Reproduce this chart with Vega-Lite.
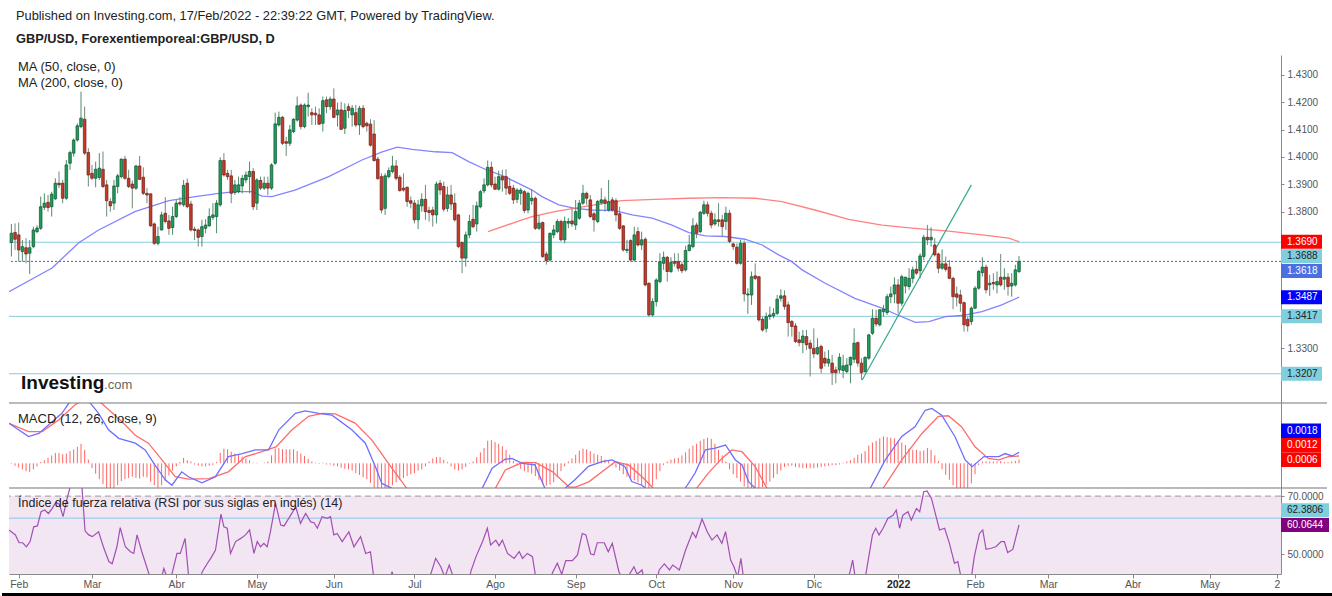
{
"$schema": "https://vega.github.io/schema/vega-lite/v6.json",
"padding": {"left": 0, "top": 10, "right": 0, "bottom": 0},
"spacing": 0,
"bounds": "flush",
"background": "white",
"config": {
 "view": {"stroke": null},
 "font": "Liberation Sans",
 "scale": {"continuousPadding": 0},
 "axis": {"grid": false, "domainColor": "#8a8a8a", "tickColor": "#8a8a8a", "labelColor": "#555555", "labelFontSize": 10, "labelFont": "Liberation Sans", "tickSize": 3, "labelPadding": 3, "domainWidth": 1}
},
"datasets": {
"candles": [
{"i":-2,"o":1.3687,"h":1.3755,"l":1.3636,"c":1.3721,"m":-0.0001},
{"i":-1,"o":1.3724,"h":1.3757,"l":1.3660,"c":1.3699,"m":-0.0004},
{"i":0,"o":1.3715,"h":1.3760,"l":1.3617,"c":1.3660,"m":-0.0007},
{"i":1,"o":1.3654,"h":1.3696,"l":1.3617,"c":1.3672,"m":-0.0010},
{"i":2,"o":1.3668,"h":1.3703,"l":1.3611,"c":1.3645,"m":-0.0013},
{"i":3,"o":1.3648,"h":1.3696,"l":1.3572,"c":1.3668,"m":-0.0014},
{"i":4,"o":1.3672,"h":1.3745,"l":1.3666,"c":1.3733,"m":-0.0010},
{"i":5,"o":1.3727,"h":1.3750,"l":1.3721,"c":1.3740,"m":-0.0005},
{"i":6,"o":1.3739,"h":1.3855,"l":1.3733,"c":1.3818,"m":0.0002},
{"i":7,"o":1.3816,"h":1.3867,"l":1.3806,"c":1.3831,"m":0.0005},
{"i":8,"o":1.3834,"h":1.3861,"l":1.3800,"c":1.3815,"m":0.0009},
{"i":9,"o":1.3818,"h":1.3873,"l":1.3782,"c":1.3864,"m":0.0013},
{"i":10,"o":1.3847,"h":1.3922,"l":1.3843,"c":1.3904,"m":0.0017},
{"i":11,"o":1.3904,"h":1.3947,"l":1.3886,"c":1.3898,"m":0.0017},
{"i":12,"o":1.3904,"h":1.3916,"l":1.3831,"c":1.3849,"m":0.0015},
{"i":13,"o":1.3849,"h":1.3989,"l":1.3843,"c":1.3971,"m":0.0016},
{"i":14,"o":1.3977,"h":1.4023,"l":1.3953,"c":1.4016,"m":0.0020},
{"i":15,"o":1.4014,"h":1.4068,"l":1.4001,"c":1.4062,"m":0.0023},
{"i":16,"o":1.4062,"h":1.4123,"l":1.4056,"c":1.4114,"m":0.0027},
{"i":17,"o":1.4111,"h":1.4239,"l":1.4105,"c":1.4142,"m":0.0032},
{"i":18,"o":1.4138,"h":1.4184,"l":1.4007,"c":1.4014,"m":0.0022},
{"i":19,"o":1.4016,"h":1.4032,"l":1.3892,"c":1.3934,"m":0.0006},
{"i":20,"o":1.3940,"h":1.3971,"l":1.3916,"c":1.3922,"m":-0.0008},
{"i":21,"o":1.3922,"h":1.3983,"l":1.3889,"c":1.3955,"m":-0.0017},
{"i":22,"o":1.3925,"h":1.4014,"l":1.3916,"c":1.3959,"m":-0.0026},
{"i":23,"o":1.3955,"h":1.4020,"l":1.3886,"c":1.3892,"m":-0.0034},
{"i":24,"o":1.3898,"h":1.3916,"l":1.3782,"c":1.3840,"m":-0.0042},
{"i":25,"o":1.3837,"h":1.3849,"l":1.3800,"c":1.3821,"m":-0.0046},
{"i":26,"o":1.3831,"h":1.3916,"l":1.3806,"c":1.3894,"m":-0.0043},
{"i":27,"o":1.3892,"h":1.3938,"l":1.3867,"c":1.3931,"m":-0.0036},
{"i":28,"o":1.3928,"h":1.3995,"l":1.3922,"c":1.3992,"m":-0.0029},
{"i":29,"o":1.3992,"h":1.4004,"l":1.3916,"c":1.3922,"m":-0.0026},
{"i":30,"o":1.3922,"h":1.3953,"l":1.3886,"c":1.3892,"m":-0.0024},
{"i":31,"o":1.3901,"h":1.3914,"l":1.3812,"c":1.3886,"m":-0.0022},
{"i":32,"o":1.3886,"h":1.3971,"l":1.3879,"c":1.3967,"m":-0.0024},
{"i":33,"o":1.3967,"h":1.4004,"l":1.3916,"c":1.3918,"m":-0.0025},
{"i":34,"o":1.3926,"h":1.3962,"l":1.3861,"c":1.3867,"m":-0.0022},
{"i":35,"o":1.3867,"h":1.3886,"l":1.3831,"c":1.3861,"m":-0.0023},
{"i":36,"o":1.3865,"h":1.3867,"l":1.3745,"c":1.3748,"m":-0.0030},
{"i":37,"o":1.3755,"h":1.3760,"l":1.3678,"c":1.3684,"m":-0.0036},
{"i":38,"o":1.3684,"h":1.3745,"l":1.3676,"c":1.3709,"m":-0.0040},
{"i":39,"o":1.3733,"h":1.3800,"l":1.3731,"c":1.3788,"m":-0.0036},
{"i":40,"o":1.3794,"h":1.3853,"l":1.3757,"c":1.3764,"m":-0.0029},
{"i":41,"o":1.3766,"h":1.3788,"l":1.3715,"c":1.3739,"m":-0.0020},
{"i":42,"o":1.3742,"h":1.3818,"l":1.3715,"c":1.3782,"m":-0.0012},
{"i":43,"o":1.3782,"h":1.3843,"l":1.3776,"c":1.3831,"m":-0.0005},
{"i":44,"o":1.3833,"h":1.3853,"l":1.3821,"c":1.3828,"m":0.0002},
{"i":45,"o":1.3825,"h":1.3916,"l":1.3818,"c":1.3896,"m":0.0009},
{"i":46,"o":1.3904,"h":1.3921,"l":1.3812,"c":1.3818,"m":0.0005},
{"i":47,"o":1.3828,"h":1.3840,"l":1.3727,"c":1.3733,"m":0.0003},
{"i":48,"o":1.3736,"h":1.3745,"l":1.3696,"c":1.3731,"m":-0.0002},
{"i":49,"o":1.3733,"h":1.3739,"l":1.3672,"c":1.3706,"m":-0.0004},
{"i":50,"o":1.3709,"h":1.3770,"l":1.3672,"c":1.3745,"m":-0.0005},
{"i":51,"o":1.3739,"h":1.3772,"l":1.3721,"c":1.3751,"m":-0.0005},
{"i":52,"o":1.3748,"h":1.3812,"l":1.3745,"c":1.3782,"m":-0.0004},
{"i":53,"o":1.3779,"h":1.3831,"l":1.3770,"c":1.3788,"m":-0.0003},
{"i":54,"o":1.3782,"h":1.3843,"l":1.3721,"c":1.3831,"m":0.0002},
{"i":55,"o":1.3825,"h":1.3999,"l":1.3818,"c":1.3987,"m":0.0017},
{"i":56,"o":1.3987,"h":1.4014,"l":1.3928,"c":1.3934,"m":0.0024},
{"i":57,"o":1.3940,"h":1.3953,"l":1.3916,"c":1.3928,"m":0.0023},
{"i":58,"o":1.3931,"h":1.3953,"l":1.3831,"c":1.3867,"m":0.0019},
{"i":59,"o":1.3870,"h":1.3916,"l":1.3861,"c":1.3898,"m":0.0016},
{"i":60,"o":1.3873,"h":1.3928,"l":1.3867,"c":1.3898,"m":0.0014},
{"i":61,"o":1.3894,"h":1.3934,"l":1.3867,"c":1.3922,"m":0.0011},
{"i":62,"o":1.3916,"h":1.3947,"l":1.3904,"c":1.3934,"m":0.0008},
{"i":63,"o":1.3928,"h":1.3983,"l":1.3867,"c":1.3947,"m":0.0005},
{"i":64,"o":1.3947,"h":1.3959,"l":1.3806,"c":1.3818,"m":0.0001},
{"i":65,"o":1.3831,"h":1.3922,"l":1.3806,"c":1.3916,"m":0.0001},
{"i":66,"o":1.3914,"h":1.3928,"l":1.3879,"c":1.3886,"m":0.0000},
{"i":67,"o":1.3886,"h":1.3928,"l":1.3879,"c":1.3904,"m":0.0001},
{"i":68,"o":1.3904,"h":1.3928,"l":1.3861,"c":1.3886,"m":0.0003},
{"i":69,"o":1.3886,"h":1.3977,"l":1.3879,"c":1.3971,"m":0.0013},
{"i":70,"o":1.3977,"h":1.4162,"l":1.3971,"c":1.4121,"m":0.0024},
{"i":71,"o":1.4117,"h":1.4166,"l":1.4111,"c":1.4145,"m":0.0025},
{"i":72,"o":1.4145,"h":1.4150,"l":1.4044,"c":1.4050,"m":0.0023},
{"i":73,"o":1.4056,"h":1.4074,"l":1.4004,"c":1.4050,"m":0.0023},
{"i":74,"o":1.4050,"h":1.4117,"l":1.4040,"c":1.4099,"m":0.0023},
{"i":75,"o":1.4093,"h":1.4142,"l":1.4087,"c":1.4138,"m":0.0023},
{"i":76,"o":1.4135,"h":1.4221,"l":1.4129,"c":1.4187,"m":0.0020},
{"i":77,"o":1.4190,"h":1.4196,"l":1.4101,"c":1.4111,"m":0.0016},
{"i":78,"o":1.4111,"h":1.4196,"l":1.4105,"c":1.4190,"m":0.0012},
{"i":79,"o":1.4184,"h":1.4235,"l":1.4148,"c":1.4190,"m":0.0007},
{"i":80,"o":1.4162,"h":1.4178,"l":1.4117,"c":1.4154,"m":0.0003},
{"i":81,"o":1.4160,"h":1.4184,"l":1.4117,"c":1.4154,"m":0.0001},
{"i":82,"o":1.4154,"h":1.4178,"l":1.4117,"c":1.4120,"m":-0.0001},
{"i":83,"o":1.4123,"h":1.4221,"l":1.4093,"c":1.4206,"m":0.0001},
{"i":84,"o":1.4209,"h":1.4221,"l":1.4160,"c":1.4184,"m":-0.0002},
{"i":85,"o":1.4184,"h":1.4221,"l":1.4172,"c":1.4212,"m":-0.0002},
{"i":86,"o":1.4212,"h":1.4251,"l":1.4142,"c":1.4145,"m":-0.0004},
{"i":87,"o":1.4154,"h":1.4199,"l":1.4111,"c":1.4172,"m":-0.0005},
{"i":88,"o":1.4172,"h":1.4202,"l":1.4099,"c":1.4101,"m":-0.0007},
{"i":89,"o":1.4105,"h":1.4196,"l":1.4084,"c":1.4170,"m":-0.0009},
{"i":90,"o":1.4184,"h":1.4196,"l":1.4142,"c":1.4170,"m":-0.0010},
{"i":91,"o":1.4154,"h":1.4190,"l":1.4111,"c":1.4178,"m":-0.0012},
{"i":92,"o":1.4162,"h":1.4190,"l":1.4109,"c":1.4117,"m":-0.0016},
{"i":93,"o":1.4117,"h":1.4187,"l":1.4081,"c":1.4178,"m":-0.0019},
{"i":94,"o":1.4178,"h":1.4190,"l":1.4105,"c":1.4111,"m":-0.0023},
{"i":95,"o":1.4123,"h":1.4129,"l":1.4093,"c":1.4114,"m":-0.0026},
{"i":96,"o":1.4120,"h":1.4138,"l":1.4038,"c":1.4043,"m":-0.0032},
{"i":97,"o":1.4084,"h":1.4135,"l":1.3983,"c":1.3987,"m":-0.0040},
{"i":98,"o":1.3992,"h":1.4001,"l":1.3916,"c":1.3921,"m":-0.0048},
{"i":99,"o":1.3928,"h":1.3940,"l":1.3794,"c":1.3806,"m":-0.0053},
{"i":100,"o":1.3812,"h":1.3940,"l":1.3788,"c":1.3931,"m":-0.0048},
{"i":101,"o":1.3928,"h":1.3962,"l":1.3922,"c":1.3950,"m":-0.0042},
{"i":102,"o":1.3947,"h":1.4004,"l":1.3940,"c":1.3967,"m":-0.0036},
{"i":103,"o":1.3967,"h":1.3989,"l":1.3914,"c":1.3922,"m":-0.0031},
{"i":104,"o":1.3926,"h":1.3934,"l":1.3873,"c":1.3877,"m":-0.0027},
{"i":105,"o":1.3886,"h":1.3940,"l":1.3873,"c":1.3879,"m":-0.0024},
{"i":106,"o":1.3889,"h":1.3892,"l":1.3818,"c":1.3837,"m":-0.0021},
{"i":107,"o":1.3840,"h":1.3855,"l":1.3812,"c":1.3831,"m":-0.0018},
{"i":108,"o":1.3831,"h":1.3843,"l":1.3757,"c":1.3770,"m":-0.0016},
{"i":109,"o":1.3770,"h":1.3843,"l":1.3736,"c":1.3825,"m":-0.0012},
{"i":110,"o":1.3821,"h":1.3867,"l":1.3800,"c":1.3845,"m":-0.0010},
{"i":111,"o":1.3845,"h":1.3898,"l":1.3770,"c":1.3800,"m":-0.0005},
{"i":112,"o":1.3804,"h":1.3818,"l":1.3764,"c":1.3797,"m":0.0003},
{"i":113,"o":1.3806,"h":1.3818,"l":1.3745,"c":1.3788,"m":0.0008},
{"i":114,"o":1.3788,"h":1.3910,"l":1.3757,"c":1.3901,"m":0.0010},
{"i":115,"o":1.3904,"h":1.3916,"l":1.3861,"c":1.3879,"m":0.0010},
{"i":116,"o":1.3892,"h":1.3910,"l":1.3800,"c":1.3809,"m":0.0006},
{"i":117,"o":1.3812,"h":1.3892,"l":1.3800,"c":1.3861,"m":0.0002},
{"i":118,"o":1.3861,"h":1.3898,"l":1.3806,"c":1.3828,"m":-0.0005},
{"i":119,"o":1.3831,"h":1.3867,"l":1.3764,"c":1.3770,"m":-0.0010},
{"i":120,"o":1.3788,"h":1.3792,"l":1.3666,"c":1.3672,"m":-0.0012},
{"i":121,"o":1.3687,"h":1.3691,"l":1.3575,"c":1.3630,"m":-0.0010},
{"i":122,"o":1.3630,"h":1.3727,"l":1.3599,"c":1.3715,"m":-0.0006},
{"i":123,"o":1.3715,"h":1.3788,"l":1.3703,"c":1.3764,"m":-0.0001},
{"i":124,"o":1.3772,"h":1.3825,"l":1.3739,"c":1.3745,"m":0.0003},
{"i":125,"o":1.3755,"h":1.3837,"l":1.3727,"c":1.3821,"m":0.0010},
{"i":126,"o":1.3818,"h":1.3879,"l":1.3812,"c":1.3873,"m":0.0018},
{"i":127,"o":1.3876,"h":1.3922,"l":1.3867,"c":1.3898,"m":0.0025},
{"i":128,"o":1.3898,"h":1.3987,"l":1.3892,"c":1.3962,"m":0.0037},
{"i":129,"o":1.3962,"h":1.3983,"l":1.3889,"c":1.3898,"m":0.0038},
{"i":130,"o":1.3901,"h":1.3928,"l":1.3879,"c":1.3882,"m":0.0035},
{"i":131,"o":1.3882,"h":1.3950,"l":1.3877,"c":1.3928,"m":0.0032},
{"i":132,"o":1.3928,"h":1.3953,"l":1.3873,"c":1.3916,"m":0.0028},
{"i":133,"o":1.3928,"h":1.3955,"l":1.3861,"c":1.3886,"m":0.0022},
{"i":134,"o":1.3892,"h":1.3922,"l":1.3861,"c":1.3867,"m":0.0014},
{"i":135,"o":1.3886,"h":1.3898,"l":1.3828,"c":1.3843,"m":0.0004},
{"i":136,"o":1.3845,"h":1.3886,"l":1.3831,"c":1.3879,"m":-0.0003},
{"i":137,"o":1.3867,"h":1.3886,"l":1.3825,"c":1.3879,"m":-0.0009},
{"i":138,"o":1.3873,"h":1.3879,"l":1.3794,"c":1.3804,"m":-0.0013},
{"i":139,"o":1.3806,"h":1.3873,"l":1.3794,"c":1.3867,"m":-0.0015},
{"i":140,"o":1.3840,"h":1.3882,"l":1.3825,"c":1.3849,"m":-0.0017},
{"i":141,"o":1.3849,"h":1.3855,"l":1.3733,"c":1.3739,"m":-0.0021},
{"i":142,"o":1.3739,"h":1.3788,"l":1.3733,"c":1.3758,"m":-0.0027},
{"i":143,"o":1.3760,"h":1.3764,"l":1.3630,"c":1.3636,"m":-0.0033},
{"i":144,"o":1.3645,"h":1.3654,"l":1.3606,"c":1.3621,"m":-0.0037},
{"i":145,"o":1.3623,"h":1.3723,"l":1.3617,"c":1.3721,"m":-0.0035},
{"i":146,"o":1.3715,"h":1.3751,"l":1.3703,"c":1.3733,"m":-0.0031},
{"i":147,"o":1.3727,"h":1.3772,"l":1.3721,"c":1.3764,"m":-0.0023},
{"i":148,"o":1.3764,"h":1.3770,"l":1.3691,"c":1.3697,"m":-0.0013},
{"i":149,"o":1.3697,"h":1.3782,"l":1.3684,"c":1.3764,"m":-0.0005},
{"i":150,"o":1.3758,"h":1.3776,"l":1.3739,"c":1.3764,"m":0.0003},
{"i":151,"o":1.3766,"h":1.3812,"l":1.3745,"c":1.3755,"m":0.0008},
{"i":152,"o":1.3751,"h":1.3843,"l":1.3733,"c":1.3800,"m":0.0014},
{"i":153,"o":1.3776,"h":1.3843,"l":1.3770,"c":1.3831,"m":0.0021},
{"i":154,"o":1.3831,"h":1.3898,"l":1.3825,"c":1.3867,"m":0.0024},
{"i":155,"o":1.3867,"h":1.3873,"l":1.3825,"c":1.3849,"m":0.0023},
{"i":156,"o":1.3843,"h":1.3861,"l":1.3776,"c":1.3782,"m":0.0020},
{"i":157,"o":1.3792,"h":1.3800,"l":1.3727,"c":1.3770,"m":0.0016},
{"i":158,"o":1.3764,"h":1.3843,"l":1.3758,"c":1.3837,"m":0.0014},
{"i":159,"o":1.3833,"h":1.3886,"l":1.3825,"c":1.3843,"m":0.0012},
{"i":160,"o":1.3843,"h":1.3855,"l":1.3800,"c":1.3831,"m":0.0006},
{"i":161,"o":1.3806,"h":1.3916,"l":1.3800,"c":1.3837,"m":0.0005},
{"i":162,"o":1.3843,"h":1.3853,"l":1.3800,"c":1.3806,"m":-0.0003},
{"i":163,"o":1.3840,"h":1.3849,"l":1.3764,"c":1.3788,"m":-0.0007},
{"i":164,"o":1.3792,"h":1.3818,"l":1.3733,"c":1.3739,"m":-0.0012},
{"i":165,"o":1.3748,"h":1.3750,"l":1.3654,"c":1.3660,"m":-0.0018},
{"i":166,"o":1.3658,"h":1.3697,"l":1.3648,"c":1.3662,"m":-0.0022},
{"i":167,"o":1.3694,"h":1.3699,"l":1.3617,"c":1.3623,"m":-0.0026},
{"i":168,"o":1.3623,"h":1.3745,"l":1.3617,"c":1.3715,"m":-0.0028},
{"i":169,"o":1.3727,"h":1.3743,"l":1.3672,"c":1.3678,"m":-0.0031},
{"i":170,"o":1.3678,"h":1.3727,"l":1.3660,"c":1.3697,"m":-0.0036},
{"i":171,"o":1.3699,"h":1.3706,"l":1.3526,"c":1.3532,"m":-0.0044},
{"i":172,"o":1.3538,"h":1.3541,"l":1.3416,"c":1.3422,"m":-0.0043},
{"i":173,"o":1.3422,"h":1.3483,"l":1.3416,"c":1.3471,"m":-0.0037},
{"i":174,"o":1.3471,"h":1.3556,"l":1.3453,"c":1.3550,"m":-0.0026},
{"i":175,"o":1.3544,"h":1.3648,"l":1.3538,"c":1.3617,"m":-0.0013},
{"i":176,"o":1.3611,"h":1.3654,"l":1.3587,"c":1.3633,"m":-0.0003},
{"i":177,"o":1.3633,"h":1.3638,"l":1.3544,"c":1.3581,"m":0.0003},
{"i":178,"o":1.3581,"h":1.3633,"l":1.3575,"c":1.3614,"m":0.0006},
{"i":179,"o":1.3617,"h":1.3648,"l":1.3599,"c":1.3611,"m":0.0008},
{"i":180,"o":1.3617,"h":1.3648,"l":1.3581,"c":1.3593,"m":0.0009},
{"i":181,"o":1.3606,"h":1.3617,"l":1.3575,"c":1.3584,"m":0.0013},
{"i":182,"o":1.3587,"h":1.3675,"l":1.3581,"c":1.3658,"m":0.0018},
{"i":183,"o":1.3658,"h":1.3715,"l":1.3654,"c":1.3678,"m":0.0024},
{"i":184,"o":1.3672,"h":1.3776,"l":1.3666,"c":1.3748,"m":0.0029},
{"i":185,"o":1.3751,"h":1.3760,"l":1.3703,"c":1.3721,"m":0.0032},
{"i":186,"o":1.3727,"h":1.3803,"l":1.3721,"c":1.3798,"m":0.0037},
{"i":187,"o":1.3794,"h":1.3840,"l":1.3788,"c":1.3825,"m":0.0040},
{"i":188,"o":1.3825,"h":1.3837,"l":1.3782,"c":1.3794,"m":0.0042},
{"i":189,"o":1.3794,"h":1.3804,"l":1.3739,"c":1.3751,"m":0.0040},
{"i":190,"o":1.3755,"h":1.3794,"l":1.3748,"c":1.3770,"m":0.0032},
{"i":191,"o":1.3770,"h":1.3831,"l":1.3745,"c":1.3764,"m":0.0022},
{"i":192,"o":1.3770,"h":1.3788,"l":1.3709,"c":1.3745,"m":0.0013},
{"i":193,"o":1.3764,"h":1.3818,"l":1.3733,"c":1.3794,"m":0.0003},
{"i":194,"o":1.3794,"h":1.3806,"l":1.3684,"c":1.3691,"m":-0.0010},
{"i":195,"o":1.3682,"h":1.3687,"l":1.3660,"c":1.3672,"m":-0.0018},
{"i":196,"o":1.3670,"h":1.3684,"l":1.3606,"c":1.3611,"m":-0.0024},
{"i":197,"o":1.3611,"h":1.3697,"l":1.3606,"c":1.3684,"m":-0.0030},
{"i":198,"o":1.3684,"h":1.3694,"l":1.3471,"c":1.3499,"m":-0.0038},
{"i":199,"o":1.3495,"h":1.3520,"l":1.3426,"c":1.3499,"m":-0.0045},
{"i":200,"o":1.3495,"h":1.3581,"l":1.3459,"c":1.3562,"m":-0.0045},
{"i":201,"o":1.3565,"h":1.3611,"l":1.3550,"c":1.3556,"m":-0.0046},
{"i":202,"o":1.3562,"h":1.3565,"l":1.3398,"c":1.3404,"m":-0.0042},
{"i":203,"o":1.3406,"h":1.3416,"l":1.3361,"c":1.3367,"m":-0.0039},
{"i":204,"o":1.3373,"h":1.3431,"l":1.3358,"c":1.3416,"m":-0.0035},
{"i":205,"o":1.3416,"h":1.3453,"l":1.3404,"c":1.3422,"m":-0.0030},
{"i":206,"o":1.3419,"h":1.3447,"l":1.3410,"c":1.3428,"m":-0.0024},
{"i":207,"o":1.3428,"h":1.3495,"l":1.3422,"c":1.3480,"m":-0.0018},
{"i":208,"o":1.3483,"h":1.3516,"l":1.3471,"c":1.3492,"m":-0.0012},
{"i":209,"o":1.3492,"h":1.3512,"l":1.3441,"c":1.3453,"m":-0.0006},
{"i":210,"o":1.3459,"h":1.3471,"l":1.3343,"c":1.3394,"m":-0.0004},
{"i":211,"o":1.3398,"h":1.3404,"l":1.3343,"c":1.3380,"m":-0.0004},
{"i":212,"o":1.3382,"h":1.3392,"l":1.3319,"c":1.3325,"m":-0.0006},
{"i":213,"o":1.3331,"h":1.3361,"l":1.3307,"c":1.3321,"m":-0.0007},
{"i":214,"o":1.3321,"h":1.3367,"l":1.3282,"c":1.3345,"m":-0.0008},
{"i":215,"o":1.3343,"h":1.3367,"l":1.3294,"c":1.3313,"m":-0.0008},
{"i":216,"o":1.3319,"h":1.3331,"l":1.3197,"c":1.3300,"m":-0.0008},
{"i":217,"o":1.3300,"h":1.3373,"l":1.3264,"c":1.3280,"m":-0.0008},
{"i":218,"o":1.3280,"h":1.3337,"l":1.3276,"c":1.3303,"m":-0.0007},
{"i":219,"o":1.3307,"h":1.3313,"l":1.3209,"c":1.3227,"m":-0.0006},
{"i":220,"o":1.3264,"h":1.3288,"l":1.3233,"c":1.3246,"m":-0.0005},
{"i":221,"o":1.3246,"h":1.3294,"l":1.3233,"c":1.3260,"m":-0.0004},
{"i":222,"o":1.3246,"h":1.3276,"l":1.3166,"c":1.3211,"m":-0.0003},
{"i":223,"o":1.3221,"h":1.3233,"l":1.3172,"c":1.3211,"m":-0.0003},
{"i":224,"o":1.3221,"h":1.3282,"l":1.3209,"c":1.3267,"m":-0.0002},
{"i":225,"o":1.3219,"h":1.3276,"l":1.3191,"c":1.3236,"m":0.0001},
{"i":226,"o":1.3215,"h":1.3264,"l":1.3209,"c":1.3239,"m":0.0003},
{"i":227,"o":1.3239,"h":1.3270,"l":1.3172,"c":1.3267,"m":0.0005},
{"i":228,"o":1.3260,"h":1.3373,"l":1.3246,"c":1.3319,"m":0.0009},
{"i":229,"o":1.3321,"h":1.3325,"l":1.3233,"c":1.3246,"m":0.0014},
{"i":230,"o":1.3246,"h":1.3264,"l":1.3185,"c":1.3211,"m":0.0016},
{"i":231,"o":1.3215,"h":1.3270,"l":1.3211,"c":1.3267,"m":0.0020},
{"i":232,"o":1.3264,"h":1.3353,"l":1.3258,"c":1.3349,"m":0.0029},
{"i":233,"o":1.3355,"h":1.3443,"l":1.3349,"c":1.3410,"m":0.0034},
{"i":234,"o":1.3410,"h":1.3441,"l":1.3380,"c":1.3389,"m":0.0037},
{"i":235,"o":1.3386,"h":1.3443,"l":1.3380,"c":1.3441,"m":0.0041},
{"i":236,"o":1.3434,"h":1.3459,"l":1.3416,"c":1.3443,"m":0.0044},
{"i":237,"o":1.3431,"h":1.3499,"l":1.3422,"c":1.3489,"m":0.0043},
{"i":238,"o":1.3489,"h":1.3526,"l":1.3465,"c":1.3499,"m":0.0042},
{"i":239,"o":1.3499,"h":1.3560,"l":1.3465,"c":1.3532,"m":0.0041},
{"i":240,"o":1.3532,"h":1.3553,"l":1.3428,"c":1.3465,"m":0.0036},
{"i":241,"o":1.3465,"h":1.3569,"l":1.3455,"c":1.3562,"m":0.0034},
{"i":242,"o":1.3528,"h":1.3562,"l":1.3501,"c":1.3560,"m":0.0030},
{"i":243,"o":1.3526,"h":1.3593,"l":1.3514,"c":1.3556,"m":0.0024},
{"i":244,"o":1.3556,"h":1.3599,"l":1.3538,"c":1.3587,"m":0.0022},
{"i":245,"o":1.3589,"h":1.3617,"l":1.3569,"c":1.3575,"m":0.0022},
{"i":246,"o":1.3584,"h":1.3648,"l":1.3556,"c":1.3638,"m":0.0020},
{"i":247,"o":1.3636,"h":1.3715,"l":1.3623,"c":1.3706,"m":0.0021},
{"i":248,"o":1.3706,"h":1.3751,"l":1.3678,"c":1.3697,"m":0.0025},
{"i":249,"o":1.3697,"h":1.3743,"l":1.3672,"c":1.3706,"m":0.0022},
{"i":250,"o":1.3678,"h":1.3703,"l":1.3636,"c":1.3642,"m":0.0013},
{"i":251,"o":1.3645,"h":1.3650,"l":1.3575,"c":1.3593,"m":0.0004},
{"i":252,"o":1.3593,"h":1.3662,"l":1.3587,"c":1.3609,"m":-0.0010},
{"i":253,"o":1.3609,"h":1.3636,"l":1.3581,"c":1.3589,"m":-0.0019},
{"i":254,"o":1.3597,"h":1.3623,"l":1.3553,"c":1.3556,"m":-0.0027},
{"i":255,"o":1.3556,"h":1.3562,"l":1.3443,"c":1.3489,"m":-0.0036},
{"i":256,"o":1.3499,"h":1.3526,"l":1.3453,"c":1.3487,"m":-0.0041},
{"i":257,"o":1.3495,"h":1.3514,"l":1.3434,"c":1.3465,"m":-0.0046},
{"i":258,"o":1.3467,"h":1.3471,"l":1.3361,"c":1.3386,"m":-0.0048},
{"i":259,"o":1.3406,"h":1.3416,"l":1.3361,"c":1.3382,"m":-0.0046},
{"i":260,"o":1.3398,"h":1.3453,"l":1.3386,"c":1.3447,"m":-0.0033},
{"i":261,"o":1.3447,"h":1.3528,"l":1.3443,"c":1.3520,"m":-0.0018},
{"i":262,"o":1.3520,"h":1.3587,"l":1.3514,"c":1.3581,"m":-0.0003},
{"i":263,"o":1.3577,"h":1.3633,"l":1.3562,"c":1.3597,"m":0.0003},
{"i":264,"o":1.3597,"h":1.3606,"l":1.3501,"c":1.3514,"m":0.0003},
{"i":265,"o":1.3532,"h":1.3569,"l":1.3492,"c":1.3538,"m":0.0003},
{"i":266,"o":1.3541,"h":1.3575,"l":1.3514,"c":1.3536,"m":0.0003},
{"i":267,"o":1.3532,"h":1.3581,"l":1.3501,"c":1.3544,"m":0.0003},
{"i":268,"o":1.3560,"h":1.3645,"l":1.3526,"c":1.3532,"m":0.0004},
{"i":269,"o":1.3553,"h":1.3593,"l":1.3514,"c":1.3560,"m":0.0002},
{"i":270,"o":1.3560,"h":1.3575,"l":1.3493,"c":1.3526,"m":0.0002},
{"i":271,"o":1.3528,"h":1.3575,"l":1.3489,"c":1.3538,"m":0.0003},
{"i":272,"o":1.3532,"h":1.3606,"l":1.3526,"c":1.3587,"m":0.0004},
{"i":273,"o":1.3581,"h":1.3638,"l":1.3575,"c":1.3618,"m":0.0006}
],
"ma50": [
{"i":-2.65,"v":1.3507},{"i":9.1,"v":1.3594},{"i":16.4,"v":1.3686},{"i":21.8,"v":1.3733},{"i":31.7,"v":1.3800},{"i":41.0,"v":1.3840},{"i":48.2,"v":1.3855},{"i":54.6,"v":1.3867},{"i":59.1,"v":1.3873},{"i":63.7,"v":1.3873},{"i":66.4,"v":1.3857},{"i":69.1,"v":1.3855},{"i":75.4,"v":1.3879},{"i":84.6,"v":1.3928},{"i":93.7,"v":1.3989},{"i":99.2,"v":1.4019},{"i":103.3,"v":1.4036},{"i":107.4,"v":1.4028},{"i":113.7,"v":1.4019},{"i":118.3,"v":1.4016},{"i":122.8,"v":1.3983},{"i":127.3,"v":1.3955},{"i":132.7,"v":1.3928},{"i":140.1,"v":1.3879},{"i":142.8,"v":1.3855},{"i":147.4,"v":1.3825},{"i":151.8,"v":1.3812},{"i":156.4,"v":1.3806},{"i":162.7,"v":1.3804},{"i":167.4,"v":1.3788},{"i":172.9,"v":1.3776},{"i":178.3,"v":1.3751},{"i":182.9,"v":1.3723},{"i":187.4,"v":1.3711},{"i":192.8,"v":1.3709},{"i":198.2,"v":1.3699},{"i":202.9,"v":1.3678},{"i":207.4,"v":1.3642},{"i":211.0,"v":1.3617},{"i":213.8,"v":1.3587},{"i":220.1,"v":1.3538},{"i":228.2,"v":1.3483},{"i":235.6,"v":1.3447},{"i":240.2,"v":1.3420},{"i":244.7,"v":1.3395},{"i":248.4,"v":1.3398},{"i":252.9,"v":1.3416},{"i":257.4,"v":1.3420},{"i":262.9,"v":1.3434},{"i":268.3,"v":1.3459},{"i":273,"v":1.3487}
],
"ma200": [
{"i":128.1,"v":1.3727},{"i":137.4,"v":1.3770},{"i":140.1,"v":1.3782},{"i":146.3,"v":1.3800},{"i":155.5,"v":1.3821},{"i":164.6,"v":1.3840},{"i":173.6,"v":1.3845},{"i":182.9,"v":1.3849},{"i":192.0,"v":1.3851},{"i":201.0,"v":1.3849},{"i":208.3,"v":1.3837},{"i":217.3,"v":1.3806},{"i":226.5,"v":1.3772},{"i":235.6,"v":1.3751},{"i":244.6,"v":1.3739},{"i":253.8,"v":1.3729},{"i":262.9,"v":1.3715},{"i":270.2,"v":1.3703},{"i":273,"v":1.3690}
],
"macd": [
{"i":-2.65,"v":0.00656},{"i":2.7,"v":0.00437},{"i":5.5,"v":0.0049},{"i":9.1,"v":0.0068},{"i":11.8,"v":0.0082},{"i":13.6,"v":0.0098},{"i":16.5,"v":0.0115},{"i":19.5,"v":0.0099},{"i":21.8,"v":0.0082},{"i":24.5,"v":0.0055},{"i":27.3,"v":0.0041},{"i":31.8,"v":0.0033},{"i":34.5,"v":0.0022},{"i":37.2,"v":-0.0003},{"i":40.0,"v":-0.0027},{"i":41.8,"v":-0.0036},{"i":44.5,"v":-0.0014},{"i":46.3,"v":-0.0022},{"i":50.0,"v":-0.0032},{"i":53.7,"v":-0.0022},{"i":57.2,"v":0.0011},{"i":61.0,"v":0.0016},{"i":64.6,"v":0.0022},{"i":68.2,"v":0.0022},{"i":71.0,"v":0.0055},{"i":75.5,"v":0.0082},{"i":78.2,"v":0.0086},{"i":81.9,"v":0.0082},{"i":85.5,"v":0.0079},{"i":90.9,"v":0.0055},{"i":94.6,"v":0.0033},{"i":97.3,"v":-0.0005},{"i":99.1,"v":-0.0033},{"i":101.8,"v":-0.0041},{"i":105,"v":-0.006},{"i":112,"v":-0.0065},{"i":120,"v":-0.0068},{"i":124.3,"v":-0.0055},{"i":126.5,"v":-0.0041},{"i":129.2,"v":-0.0008},{"i":132.7,"v":0.00066},{"i":134.6,"v":0.00082},{"i":137.4,"v":0},{"i":140.9,"v":-0.00027},{"i":143.6,"v":-0.0041},{"i":146.3,"v":-0.005},{"i":149.1,"v":-0.0041},{"i":151.8,"v":-0.0027},{"i":155.5,"v":-0.0005},{"i":159.2,"v":0.00027},{"i":161.9,"v":0.00055},{"i":165.4,"v":-0.0005},{"i":167.3,"v":-0.003},{"i":170.1,"v":-0.0036},{"i":171.0,"v":-0.0041},{"i":175,"v":-0.006},{"i":179,"v":-0.0055},{"i":181.9,"v":-0.0041},{"i":184.6,"v":-0.0016},{"i":187.4,"v":0.0022},{"i":190.1,"v":0.0025},{"i":192.9,"v":0.003},{"i":195.6,"v":0.00055},{"i":197.4,"v":-0.00027},{"i":199.2,"v":-0.003},{"i":201.0,"v":-0.0041},{"i":205,"v":-0.007},{"i":215,"v":-0.0085},{"i":225,"v":-0.007},{"i":232.4,"v":-0.0041},{"i":236.5,"v":0.00055},{"i":241.0,"v":0.0044},{"i":244.6,"v":0.006},{"i":247.4,"v":0.0087},{"i":249.2,"v":0.009},{"i":251.9,"v":0.0079},{"i":255.5,"v":0.0044},{"i":258.3,"v":0.00055},{"i":260.2,"v":-0.00055},{"i":263.4,"v":0.0011},{"i":267.5,"v":0.0011},{"i":269.2,"v":0.0016},{"i":271.1,"v":0.0012},{"i":273,"v":0.0018}
],
"signal": [
{"i":-2.65,"v":0.00656},{"i":2.7,"v":0.0052},{"i":6.4,"v":0.0052},{"i":10.9,"v":0.0071},{"i":15.4,"v":0.0096},{"i":19,"v":0.0108},{"i":22.7,"v":0.0098},{"i":28.2,"v":0.0068},{"i":31.8,"v":0.0046},{"i":35.4,"v":0.0033},{"i":39.1,"v":0.00055},{"i":42.7,"v":-0.0022},{"i":46.3,"v":-0.0026},{"i":51.9,"v":-0.0025},{"i":57.2,"v":-0.0014},{"i":61.9,"v":0.0011},{"i":66.4,"v":0.0019},{"i":70.2,"v":0.0027},{"i":74.6,"v":0.0055},{"i":79.1,"v":0.0077},{"i":82.8,"v":0.0082},{"i":86.4,"v":0.0081},{"i":91.8,"v":0.0066},{"i":96.4,"v":0.0038},{"i":100.9,"v":0},{"i":105.9,"v":-0.0041},{"i":112,"v":-0.0058},{"i":120,"v":-0.0062},{"i":126,"v":-0.005},{"i":130.1,"v":-0.0041},{"i":132.8,"v":-0.0011},{"i":137.5,"v":0.00016},{"i":141.1,"v":0.0001},{"i":145.7,"v":-0.0014},{"i":150.2,"v":-0.0039},{"i":152,"v":-0.0039},{"i":155.7,"v":-0.003},{"i":159.2,"v":-0.0014},{"i":162.8,"v":0.00027},{"i":166.4,"v":-0.00027},{"i":170.1,"v":-0.0022},{"i":173.2,"v":-0.0041},{"i":178,"v":-0.005},{"i":185.0,"v":-0.0041},{"i":188.2,"v":-0.0016},{"i":191.9,"v":0.0008},{"i":194.6,"v":0.0022},{"i":197.4,"v":0.0019},{"i":201.0,"v":-0.00055},{"i":204.2,"v":-0.0041},{"i":212,"v":-0.007},{"i":225,"v":-0.0075},{"i":235.9,"v":-0.0041},{"i":241.0,"v":0.00055},{"i":246.5,"v":0.0049},{"i":251.0,"v":0.0077},{"i":253.7,"v":0.0078},{"i":257.3,"v":0.006},{"i":261.0,"v":0.0027},{"i":264.6,"v":0.0008},{"i":267.5,"v":0.00055},{"i":270.1,"v":0.0011},{"i":273,"v":0.0012}
],
"rsi": [
{"i":-2.65,"v":58.3},{"i":-0.9,"v":56.6},{"i":0.1,"v":53.9},{"i":1.1,"v":53.9},{"i":2.1,"v":52.5},{"i":3.1,"v":54.3},{"i":4.1,"v":59.4},{"i":5.1,"v":59.7},{"i":6.1,"v":64.6},{"i":7.1,"v":65.2},{"i":8.1,"v":64.0},{"i":9.1,"v":65.7},{"i":10.1,"v":67.8},{"i":11.1,"v":67.2},{"i":12.1,"v":62.9},{"i":13.1,"v":68.6},{"i":14.1,"v":73.5},{"i":15.1,"v":76},{"i":16.1,"v":78},{"i":17.1,"v":76},{"i":18.1,"v":58},{"i":19.1,"v":56.6},{"i":20.1,"v":56},{"i":21.8,"v":57.7},{"i":23.1,"v":52.5},{"i":24.6,"v":47.4},{"i":25.5,"v":46.6},{"i":26.8,"v":52.5},{"i":27.7,"v":59.1},{"i":29.1,"v":52.5},{"i":30.5,"v":50.8},{"i":31.4,"v":50.2},{"i":32.3,"v":56.6},{"i":33.6,"v":50.8},{"i":35.5,"v":43.3},{"i":36.6,"v":36},{"i":37.6,"v":33},{"i":38.6,"v":40},{"i":39.6,"v":45},{"i":40.5,"v":42},{"i":41.6,"v":42},{"i":43.2,"v":50.2},{"i":44.1,"v":50.2},{"i":45.4,"v":55.4},{"i":46.4,"v":42},{"i":47.6,"v":38},{"i":49.1,"v":40},{"i":50.1,"v":43.9},{"i":51.5,"v":46.8},{"i":52.4,"v":48.5},{"i":53.7,"v":51.4},{"i":55.2,"v":63.8},{"i":56.0,"v":59.4},{"i":56.9,"v":58.9},{"i":57.8,"v":50.2},{"i":59.2,"v":54.3},{"i":60.6,"v":55.4},{"i":61.9,"v":56.6},{"i":63.0,"v":58.3},{"i":64.2,"v":50.2},{"i":65.1,"v":54.3},{"i":66.0,"v":52.5},{"i":66.9,"v":53.7},{"i":67.8,"v":52.5},{"i":68.7,"v":57.7},{"i":70.1,"v":67.5},{"i":71.5,"v":60},{"i":72.4,"v":59.7},{"i":73.7,"v":62.3},{"i":75.6,"v":66.3},{"i":76.9,"v":60.6},{"i":78.3,"v":64},{"i":79.7,"v":61.1},{"i":80.6,"v":60.8},{"i":81.5,"v":58.9},{"i":82.8,"v":62.9},{"i":84.2,"v":62.3},{"i":85.1,"v":62.9},{"i":86.0,"v":56.6},{"i":86.9,"v":57.1},{"i":88.3,"v":54.3},{"i":90.1,"v":57.7},{"i":91.5,"v":52.5},{"i":93.3,"v":56},{"i":94.7,"v":50.2},{"i":96.0,"v":50.8},{"i":96.9,"v":42},{"i":98.2,"v":35},{"i":99.7,"v":30},{"i":101.2,"v":40},{"i":101.9,"v":43.9},{"i":102.7,"v":40},{"i":105.2,"v":35},{"i":108.2,"v":33},{"i":111.2,"v":38},{"i":113.8,"v":48.5},{"i":115.2,"v":45.6},{"i":116.3,"v":42},{"i":117.5,"v":46.2},{"i":118.6,"v":42},{"i":120.3,"v":36},{"i":121.8,"v":33},{"i":123.4,"v":44},{"i":124.8,"v":49.1},{"i":126.6,"v":54.3},{"i":127.9,"v":58.9},{"i":128.8,"v":53.1},{"i":130.2,"v":54.8},{"i":131.1,"v":52.8},{"i":132.0,"v":54.8},{"i":133.4,"v":50.2},{"i":135.2,"v":48.5},{"i":136.6,"v":50.8},{"i":137.5,"v":48.5},{"i":138.8,"v":50.2},{"i":140.2,"v":49.1},{"i":141.1,"v":42},{"i":142.3,"v":38},{"i":143.8,"v":36},{"i":145.7,"v":43.6},{"i":147.0,"v":46.8},{"i":148.2,"v":43},{"i":149.3,"v":47.7},{"i":151.1,"v":47.7},{"i":152.5,"v":49.7},{"i":153.8,"v":57.1},{"i":154.8,"v":56.6},{"i":156.1,"v":50},{"i":157.0,"v":49.7},{"i":157.9,"v":53.9},{"i":159.8,"v":53.9},{"i":160.9,"v":50.8},{"i":162.0,"v":53.7},{"i":163.8,"v":43.9},{"i":165.3,"v":40},{"i":167.9,"v":45.6},{"i":168.8,"v":43},{"i":170.1,"v":44.5},{"i":171.3,"v":38},{"i":172.3,"v":32},{"i":173.3,"v":36},{"i":174.8,"v":44.5},{"i":176.2,"v":46.6},{"i":177.6,"v":44.5},{"i":178.5,"v":46.2},{"i":180.3,"v":44.5},{"i":182.0,"v":51.4},{"i":183.9,"v":57.5},{"i":184.8,"v":55.7},{"i":186.5,"v":62.1},{"i":187.9,"v":57.7},{"i":189.2,"v":54.8},{"i":190.6,"v":56.6},{"i":191.9,"v":53.7},{"i":192.9,"v":57.7},{"i":194.3,"v":47.9},{"i":195.2,"v":45.6},{"i":196.2,"v":42},{"i":197.1,"v":48.5},{"i":198.0,"v":40},{"i":199.4,"v":34},{"i":203.4,"v":30},{"i":210.4,"v":33},{"i":215.4,"v":32},{"i":220.4,"v":30},{"i":224.4,"v":35},{"i":226.7,"v":43},{"i":227.6,"v":47.9},{"i":228.5,"v":40},{"i":230.5,"v":38},{"i":231.2,"v":43},{"i":233.0,"v":56.6},{"i":233.9,"v":58.9},{"i":234.8,"v":56.6},{"i":235.9,"v":58.9},{"i":237.2,"v":62.3},{"i":238.6,"v":63.4},{"i":239.5,"v":65.2},{"i":240.4,"v":58.9},{"i":241.3,"v":63.4},{"i":242.7,"v":64.6},{"i":243.6,"v":61.7},{"i":245.0,"v":65.7},{"i":245.9,"v":64.6},{"i":247.0,"v":71.5},{"i":247.9,"v":71.8},{"i":249.1,"v":69.2},{"i":250.5,"v":62.3},{"i":251.3,"v":58.3},{"i":252.7,"v":58.9},{"i":254.0,"v":53.7},{"i":255.4,"v":46.8},{"i":256.3,"v":47.4},{"i":257.5,"v":40},{"i":259.0,"v":38},{"i":260.0,"v":42},{"i":260.8,"v":49.1},{"i":262.2,"v":57.1},{"i":263.1,"v":58.3},{"i":264.0,"v":51.6},{"i":265.4,"v":52},{"i":266.7,"v":52.5},{"i":268.1,"v":54.3},{"i":269.0,"v":54.3},{"i":269.9,"v":50.5},{"i":271.3,"v":51.6},{"i":273,"v":60.06}
],
"levels": [{"v":1.3688},{"v":1.3417},{"v":1.3207}],
"trend": [{"i":230.2,"v":1.3184},{"i":260.0,"v":1.3898}]
},
"vconcat": [
{
 "width": 1272, "height": 348,
 "layer": [
  {"data": {"name": "levels"}, "mark": {"type": "rule", "color": "#84cddb", "strokeWidth": 1},
   "encoding": {"y": {"field": "v", "type": "quantitative", "scale": {"domain": [1.31, 1.4373], "nice": false, "zero": false, "padding": 0},
     "axis": {"orient": "right", "values": [1.33, 1.38, 1.39, 1.40, 1.41, 1.42, 1.43], "format": ".4f", "title": null}}}},
  {"data": {"values": [{"v": 1.3618}]}, "mark": {"type": "rule", "color": "#3f60d8", "strokeWidth": 1, "strokeDash": [2, 2]},
   "encoding": {"y": {"field": "v", "type": "quantitative", "scale": {"domain": [1.31, 1.4373], "nice": false, "zero": false, "padding": 0}}}},
  {"data": {"name": "ma50"}, "mark": {"type": "line", "color": "#6e6eff", "strokeWidth": 1.3, "opacity": 0.85, "clip": true},
   "encoding": {"x": {"field": "i", "type": "quantitative", "scale": {"domain": [-2.65, 344.5], "nice": false, "zero": false, "padding": 0}, "axis": null},
     "y": {"field": "v", "type": "quantitative", "scale": {"domain": [1.31, 1.4373], "nice": false, "zero": false, "padding": 0}}}},
  {"data": {"name": "ma200"}, "mark": {"type": "line", "color": "#ff6b6b", "strokeWidth": 1.3, "opacity": 0.85, "clip": true},
   "encoding": {"x": {"field": "i", "type": "quantitative", "scale": {"domain": [-2.65, 344.5], "nice": false, "zero": false, "padding": 0}, "axis": null},
     "y": {"field": "v", "type": "quantitative", "scale": {"domain": [1.31, 1.4373], "nice": false, "zero": false, "padding": 0}}}},
  {"data": {"name": "trend"}, "mark": {"type": "line", "color": "#35a98b", "strokeWidth": 1.2},
   "encoding": {"x": {"field": "i", "type": "quantitative", "scale": {"domain": [-2.65, 344.5], "nice": false, "zero": false, "padding": 0}, "axis": null},
     "y": {"field": "v", "type": "quantitative", "scale": {"domain": [1.31, 1.4373], "nice": false, "zero": false, "padding": 0}}}},
  {"data": {"name": "candles"}, "mark": {"type": "rule", "strokeWidth": 1, "clip": true},
   "encoding": {"x": {"field": "i", "type": "quantitative", "scale": {"domain": [-2.65, 344.5], "nice": false, "zero": false, "padding": 0}, "axis": null},
     "y": {"field": "l", "type": "quantitative", "scale": {"domain": [1.31, 1.4373], "nice": false, "zero": false, "padding": 0}}, "y2": {"field": "h"},
     "color": {"condition": {"test": "datum.c >= datum.o", "value": "#4f8c6c"}, "value": "#6f8a7b"}}},
  {"data": {"name": "candles"}, "mark": {"type": "bar", "width": 2.6, "strokeWidth": 0.7, "clip": true},
   "encoding": {"x": {"field": "i", "type": "quantitative", "scale": {"domain": [-2.65, 344.5], "nice": false, "zero": false, "padding": 0}, "axis": null},
     "y": {"field": "o", "type": "quantitative", "scale": {"domain": [1.31, 1.4373], "nice": false, "zero": false, "padding": 0}}, "y2": {"field": "c"},
     "fill": {"condition": {"test": "datum.c >= datum.o", "value": "#1f9d5a"}, "value": "#c23b2c"},
     "stroke": {"condition": {"test": "datum.c >= datum.o", "value": "#0f5132"}, "value": "#6e1b13"}}},
  {"data": {"values": [{}]}, "mark": {"type": "text", "align": "left", "baseline": "alphabetic", "fontSize": 12.8, "color": "#222222", "yOffset": -35,
     "text": "Published on Investing.com, 17/Feb/2022 - 22:39:22 GMT, Powered by TradingView."},
   "encoding": {"x": {"datum": -0.74, "type": "quantitative", "scale": {"domain": [-2.65, 344.5], "nice": false, "zero": false, "padding": 0}, "axis": null},
     "y": {"datum": 1.4373, "type": "quantitative", "scale": {"domain": [1.31, 1.4373], "nice": false, "zero": false, "padding": 0}}}},
  {"data": {"values": [{}]}, "mark": {"type": "text", "align": "left", "baseline": "alphabetic", "fontSize": 12.8, "fontWeight": "bold", "color": "#222222", "yOffset": -12,
     "text": "GBP/USD, Forexentiemporeal:GBP/USD, D"},
   "encoding": {"x": {"datum": -0.74, "type": "quantitative", "scale": {"domain": [-2.65, 344.5], "nice": false, "zero": false, "padding": 0}, "axis": null},
     "y": {"datum": 1.4373, "type": "quantitative", "scale": {"domain": [1.31, 1.4373], "nice": false, "zero": false, "padding": 0}}}},
  {"data": {"values": [{}]}, "mark": {"type": "text", "align": "left", "baseline": "alphabetic", "fontSize": 13, "color": "#222222", "text": "MA (50, close, 0)"},
   "encoding": {"x": {"datum": -0.19, "type": "quantitative", "scale": {"domain": [-2.65, 344.5], "nice": false, "zero": false, "padding": 0}, "axis": null},
     "y": {"datum": 1.43146, "type": "quantitative", "scale": {"domain": [1.31, 1.4373], "nice": false, "zero": false, "padding": 0}}}},
  {"data": {"values": [{}]}, "mark": {"type": "text", "align": "left", "baseline": "alphabetic", "fontSize": 13, "color": "#222222", "text": "MA (200, close, 0)"},
   "encoding": {"x": {"datum": -0.19, "type": "quantitative", "scale": {"domain": [-2.65, 344.5], "nice": false, "zero": false, "padding": 0}, "axis": null},
     "y": {"datum": 1.42561, "type": "quantitative", "scale": {"domain": [1.31, 1.4373], "nice": false, "zero": false, "padding": 0}}}},
  {"data": {"values": [{}]}, "mark": {"type": "text", "align": "left", "baseline": "alphabetic", "fontSize": 19, "fontWeight": "bold", "color": "#111111", "text": "Investing"},
   "encoding": {"x": {"datum": 0.63, "type": "quantitative", "scale": {"domain": [-2.65, 344.5], "nice": false, "zero": false, "padding": 0}, "axis": null},
     "y": {"datum": 1.31515, "type": "quantitative", "scale": {"domain": [1.31, 1.4373], "nice": false, "zero": false, "padding": 0}}}},
  {"data": {"values": [{}]}, "mark": {"type": "text", "align": "left", "baseline": "alphabetic", "fontSize": 13, "color": "#666666", "text": ".com"},
   "encoding": {"x": {"datum": 23.3, "type": "quantitative", "scale": {"domain": [-2.65, 344.5], "nice": false, "zero": false, "padding": 0}, "axis": null},
     "y": {"datum": 1.31515, "type": "quantitative", "scale": {"domain": [1.31, 1.4373], "nice": false, "zero": false, "padding": 0}}}},
  {"data": {"values": [{"v": 1.369, "t": "1.3690", "kind": "ma200"}, {"v": 1.3487, "t": "1.3487", "kind": "ma50"}, {"v": 1.3417, "t": "1.3417", "kind": "line"}, {"v": 1.3207, "t": "1.3207", "kind": "line"}]},
   "layer": [
    {"mark": {"type": "bar", "orient": "horizontal", "height": 14, "x2Offset": 41},
     "encoding": {"x": {"datum": 344.5, "type": "quantitative", "scale": {"domain": [-2.65, 344.5], "nice": false, "zero": false, "padding": 0}, "axis": null}, "x2": {"datum": 344.5},
       "y": {"field": "v", "type": "quantitative", "scale": {"domain": [1.31, 1.4373], "nice": false, "zero": false, "padding": 0}},
       "color": {"field": "kind", "type": "nominal", "legend": null, "scale": {"domain": ["ma200", "line", "last", "ma50", "macd", "signal", "hist", "rsi"], "range": ["#ff0000", "#80cfdc", "#4a6fe3", "#0000ff", "#0000ff", "#ff0000", "#ff0000", "#800080"]}}}},
    {"mark": {"type": "text", "align": "left", "baseline": "middle", "fontSize": 10, "xOffset": 6},
     "encoding": {"x": {"datum": 344.5, "type": "quantitative", "scale": {"domain": [-2.65, 344.5], "nice": false, "zero": false, "padding": 0}, "axis": null},
       "y": {"field": "v", "type": "quantitative", "scale": {"domain": [1.31, 1.4373], "nice": false, "zero": false, "padding": 0}},
       "text": {"field": "t"}, "color": {"condition": {"test": "datum.kind == 'line'", "value": "#222222"}, "value": "#ffffff"}}}
   ]},
  {"data": {"values": [{"v": 1.3688, "t": "1.3688", "kind": "line"}]},
   "layer": [
    {"mark": {"type": "bar", "orient": "horizontal", "height": 14, "yOffset": 14, "x2Offset": 41},
     "encoding": {"x": {"datum": 344.5, "type": "quantitative", "scale": {"domain": [-2.65, 344.5], "nice": false, "zero": false, "padding": 0}, "axis": null}, "x2": {"datum": 344.5},
       "y": {"field": "v", "type": "quantitative", "scale": {"domain": [1.31, 1.4373], "nice": false, "zero": false, "padding": 0}},
       "color": {"field": "kind", "type": "nominal", "legend": null}}},
    {"mark": {"type": "text", "align": "left", "baseline": "middle", "fontSize": 10, "yOffset": 14, "xOffset": 6},
     "encoding": {"x": {"datum": 344.5, "type": "quantitative", "scale": {"domain": [-2.65, 344.5], "nice": false, "zero": false, "padding": 0}, "axis": null},
       "y": {"field": "v", "type": "quantitative", "scale": {"domain": [1.31, 1.4373], "nice": false, "zero": false, "padding": 0}},
       "text": {"field": "t"}, "color": {"value": "#222222"}}}
   ]},
  {"data": {"values": [{"v": 1.3618, "t": "1.3618", "kind": "last"}]},
   "layer": [
    {"mark": {"type": "bar", "orient": "horizontal", "height": 14, "yOffset": 9.6, "x2Offset": 41},
     "encoding": {"x": {"datum": 344.5, "type": "quantitative", "scale": {"domain": [-2.65, 344.5], "nice": false, "zero": false, "padding": 0}, "axis": null}, "x2": {"datum": 344.5},
       "y": {"field": "v", "type": "quantitative", "scale": {"domain": [1.31, 1.4373], "nice": false, "zero": false, "padding": 0}},
       "color": {"field": "kind", "type": "nominal", "legend": null}}},
    {"mark": {"type": "text", "align": "left", "baseline": "middle", "fontSize": 10, "yOffset": 9.6, "xOffset": 6},
     "encoding": {"x": {"datum": 344.5, "type": "quantitative", "scale": {"domain": [-2.65, 344.5], "nice": false, "zero": false, "padding": 0}, "axis": null},
       "y": {"field": "v", "type": "quantitative", "scale": {"domain": [1.31, 1.4373], "nice": false, "zero": false, "padding": 0}},
       "text": {"field": "t"}, "color": {"value": "#ffffff"}}}
   ]}
 ]
},
{
 "width": 1272, "height": 85,
 "layer": [
  {"data": {"name": "candles"}, "mark": {"type": "rule", "color": "#ff6464", "strokeWidth": 1, "clip": true},
   "encoding": {"x": {"field": "i", "type": "quantitative", "scale": {"domain": [-2.65, 344.5], "nice": false, "zero": false, "padding": 0}, "axis": null},
     "y": {"field": "m", "type": "quantitative", "scale": {"domain": [-0.00405, 0.00989], "nice": false, "zero": false, "padding": 0},
       "axis": {"orient": "right", "labels": false, "ticks": false, "title": null}},
     "y2": {"datum": 0}}},
  {"data": {"name": "signal"}, "mark": {"type": "line", "color": "#ff6b6b", "strokeWidth": 1.3, "clip": true},
   "encoding": {"x": {"field": "i", "type": "quantitative", "scale": {"domain": [-2.65, 344.5], "nice": false, "zero": false, "padding": 0}, "axis": null},
     "y": {"field": "v", "type": "quantitative", "scale": {"domain": [-0.00405, 0.00989], "nice": false, "zero": false, "padding": 0}}}},
  {"data": {"name": "macd"}, "mark": {"type": "line", "color": "#6e6eff", "strokeWidth": 1.3, "clip": true},
   "encoding": {"x": {"field": "i", "type": "quantitative", "scale": {"domain": [-2.65, 344.5], "nice": false, "zero": false, "padding": 0}, "axis": null},
     "y": {"field": "v", "type": "quantitative", "scale": {"domain": [-0.00405, 0.00989], "nice": false, "zero": false, "padding": 0}}}},
  {"data": {"values": [{}]}, "mark": {"type": "rule", "color": "#777777", "strokeWidth": 1.2, "x2Offset": 46},
   "encoding": {"x": {"datum": -2.65, "type": "quantitative", "scale": {"domain": [-2.65, 344.5], "nice": false, "zero": false, "padding": 0}, "axis": null}, "x2": {"datum": 344.5},
     "y": {"datum": 0.00989, "type": "quantitative", "scale": {"domain": [-0.00405, 0.00989], "nice": false, "zero": false, "padding": 0}}}},
  {"data": {"values": [{}]}, "mark": {"type": "text", "align": "left", "baseline": "alphabetic", "fontSize": 13, "color": "#222222", "text": "MACD (12, 26, close, 9)"},
   "encoding": {"x": {"datum": -0.19, "type": "quantitative", "scale": {"domain": [-2.65, 344.5], "nice": false, "zero": false, "padding": 0}, "axis": null},
     "y": {"datum": 0.00669, "type": "quantitative", "scale": {"domain": [-0.00405, 0.00989], "nice": false, "zero": false, "padding": 0}}}},
  {"data": {"values": [{"v": 0.0018, "t": "0.0018", "kind": "macd"}]},
   "layer": [
    {"mark": {"type": "bar", "orient": "horizontal", "height": 14.5, "yOffset": -21.6, "x2Offset": 40},
     "encoding": {"x": {"datum": 344.5, "type": "quantitative", "scale": {"domain": [-2.65, 344.5], "nice": false, "zero": false, "padding": 0}, "axis": null}, "x2": {"datum": 344.5},
       "y": {"field": "v", "type": "quantitative", "scale": {"domain": [-0.00405, 0.00989], "nice": false, "zero": false, "padding": 0}},
       "color": {"field": "kind", "type": "nominal", "legend": null}}},
    {"mark": {"type": "text", "align": "left", "baseline": "middle", "fontSize": 10, "yOffset": -21.6, "xOffset": 6},
     "encoding": {"x": {"datum": 344.5, "type": "quantitative", "scale": {"domain": [-2.65, 344.5], "nice": false, "zero": false, "padding": 0}, "axis": null},
       "y": {"field": "v", "type": "quantitative", "scale": {"domain": [-0.00405, 0.00989], "nice": false, "zero": false, "padding": 0}},
       "text": {"field": "t"}, "color": {"value": "#ffffff"}}}
   ]},
  {"data": {"values": [{"v": 0.0012, "t": "0.0012", "kind": "signal"}]},
   "layer": [
    {"mark": {"type": "bar", "orient": "horizontal", "height": 14.5, "yOffset": -10.7, "x2Offset": 40},
     "encoding": {"x": {"datum": 344.5, "type": "quantitative", "scale": {"domain": [-2.65, 344.5], "nice": false, "zero": false, "padding": 0}, "axis": null}, "x2": {"datum": 344.5},
       "y": {"field": "v", "type": "quantitative", "scale": {"domain": [-0.00405, 0.00989], "nice": false, "zero": false, "padding": 0}},
       "color": {"field": "kind", "type": "nominal", "legend": null}}},
    {"mark": {"type": "text", "align": "left", "baseline": "middle", "fontSize": 10, "yOffset": -10.7, "xOffset": 6},
     "encoding": {"x": {"datum": 344.5, "type": "quantitative", "scale": {"domain": [-2.65, 344.5], "nice": false, "zero": false, "padding": 0}, "axis": null},
       "y": {"field": "v", "type": "quantitative", "scale": {"domain": [-0.00405, 0.00989], "nice": false, "zero": false, "padding": 0}},
       "text": {"field": "t"}, "color": {"value": "#ffffff"}}}
   ]},
  {"data": {"values": [{"v": 0.0006, "t": "0.0006", "kind": "hist"}]},
   "layer": [
    {"mark": {"type": "bar", "orient": "horizontal", "height": 14.5, "x2Offset": 40},
     "encoding": {"x": {"datum": 344.5, "type": "quantitative", "scale": {"domain": [-2.65, 344.5], "nice": false, "zero": false, "padding": 0}, "axis": null}, "x2": {"datum": 344.5},
       "y": {"field": "v", "type": "quantitative", "scale": {"domain": [-0.00405, 0.00989], "nice": false, "zero": false, "padding": 0}},
       "color": {"field": "kind", "type": "nominal", "legend": null}}},
    {"mark": {"type": "text", "align": "left", "baseline": "middle", "fontSize": 10, "xOffset": 6},
     "encoding": {"x": {"datum": 344.5, "type": "quantitative", "scale": {"domain": [-2.65, 344.5], "nice": false, "zero": false, "padding": 0}, "axis": null},
       "y": {"field": "v", "type": "quantitative", "scale": {"domain": [-0.00405, 0.00989], "nice": false, "zero": false, "padding": 0}},
       "text": {"field": "t"}, "color": {"value": "#ffffff"}}}
   ]}
 ]
},
{
 "width": 1272, "height": 86,
 "layer": [
  {"data": {"values": [{}]}, "mark": {"type": "rect", "color": "#f2e6f2", "clip": true},
   "encoding": {"x": {"datum": -2.65, "type": "quantitative", "scale": {"domain": [-2.65, 344.5], "nice": false, "zero": false, "padding": 0},
       "axis": {"values": [0, 20, 43, 65, 86, 108, 130, 152, 174, 195, 217, 240, 261, 281, 304, 325, 343.4],
         "labelExpr": "['Feb','Mar','Abr','May','Jun','Jul','Ago','Sep','Oct','Nov','Dic','2022','Feb','Mar','Abr','May','2'][indexof([0,20,43,65,86,108,130,152,174,195,217,240,261,281,304,325,343.4], datum.value)]",
         "labelFontWeight": {"condition": {"test": "datum.value == 240", "value": "bold"}, "value": "normal"},
         "labelColor": {"condition": {"test": "datum.value == 240", "value": "#222222"}, "value": "#555555"},
         "tickSize": 4, "labelPadding": 1, "labelFlush": false, "labelOverlap": false, "labelFontSize": 10.5, "title": null}},
     "x2": {"datum": 344.5},
     "y": {"datum": 70, "type": "quantitative", "scale": {"domain": [43.1, 72.8], "nice": false, "zero": false, "padding": 0},
       "axis": {"orient": "right", "values": [50, 70], "format": ".4f", "title": null}},
     "y2": {"datum": 43.1}}},
  {"data": {"values": [{}]}, "mark": {"type": "rule", "color": "#9a9a9a", "strokeWidth": 1, "strokeDash": [6, 4]},
   "encoding": {"y": {"datum": 70, "type": "quantitative", "scale": {"domain": [43.1, 72.8], "nice": false, "zero": false, "padding": 0}}}},
  {"data": {"values": [{}]}, "mark": {"type": "rule", "color": "#8cc6ea", "strokeWidth": 1},
   "encoding": {"y": {"datum": 62.3806, "type": "quantitative", "scale": {"domain": [43.1, 72.8], "nice": false, "zero": false, "padding": 0}}}},
  {"data": {"name": "rsi"}, "mark": {"type": "line", "color": "#a24fb5", "strokeWidth": 1.2, "clip": true},
   "encoding": {"x": {"field": "i", "type": "quantitative", "scale": {"domain": [-2.65, 344.5], "nice": false, "zero": false, "padding": 0}},
     "y": {"field": "v", "type": "quantitative", "scale": {"domain": [43.1, 72.8], "nice": false, "zero": false, "padding": 0}}}},
  {"data": {"values": [{}]}, "mark": {"type": "rule", "color": "#777777", "strokeWidth": 1.2, "x2Offset": 46},
   "encoding": {"x": {"datum": -2.65, "type": "quantitative", "scale": {"domain": [-2.65, 344.5], "nice": false, "zero": false, "padding": 0}}, "x2": {"datum": 344.5},
     "y": {"datum": 72.8, "type": "quantitative", "scale": {"domain": [43.1, 72.8], "nice": false, "zero": false, "padding": 0}}}},
  {"data": {"values": [{}]}, "mark": {"type": "text", "align": "left", "baseline": "alphabetic", "fontSize": 12.5, "color": "#222222", "text": "Índice de fuerza relativa (RSI por sus siglas en inglés) (14)"},
   "encoding": {"x": {"datum": -0.19, "type": "quantitative", "scale": {"domain": [-2.65, 344.5], "nice": false, "zero": false, "padding": 0}},
     "y": {"datum": 66.2, "type": "quantitative", "scale": {"domain": [43.1, 72.8], "nice": false, "zero": false, "padding": 0}}}},
  {"data": {"values": [{"v": 62.3806, "t": "62.3806", "kind": "line"}]},
   "layer": [
    {"mark": {"type": "bar", "orient": "horizontal", "height": 14, "yOffset": -7.8, "x2Offset": 48},
     "encoding": {"x": {"datum": 344.5, "type": "quantitative", "scale": {"domain": [-2.65, 344.5], "nice": false, "zero": false, "padding": 0}}, "x2": {"datum": 344.5},
       "y": {"field": "v", "type": "quantitative", "scale": {"domain": [43.1, 72.8], "nice": false, "zero": false, "padding": 0}},
       "color": {"field": "kind", "type": "nominal", "legend": null}}},
    {"mark": {"type": "text", "align": "left", "baseline": "middle", "fontSize": 10, "yOffset": -7.8, "xOffset": 6},
     "encoding": {"x": {"datum": 344.5, "type": "quantitative", "scale": {"domain": [-2.65, 344.5], "nice": false, "zero": false, "padding": 0}},
       "y": {"field": "v", "type": "quantitative", "scale": {"domain": [43.1, 72.8], "nice": false, "zero": false, "padding": 0}},
       "text": {"field": "t"}, "color": {"value": "#222222"}}}
   ]},
  {"data": {"values": [{"v": 60.0644, "t": "60.0644", "kind": "rsi"}]},
   "layer": [
    {"mark": {"type": "bar", "orient": "horizontal", "height": 14, "x2Offset": 48},
     "encoding": {"x": {"datum": 344.5, "type": "quantitative", "scale": {"domain": [-2.65, 344.5], "nice": false, "zero": false, "padding": 0}}, "x2": {"datum": 344.5},
       "y": {"field": "v", "type": "quantitative", "scale": {"domain": [43.1, 72.8], "nice": false, "zero": false, "padding": 0}},
       "color": {"field": "kind", "type": "nominal", "legend": null}}},
    {"mark": {"type": "text", "align": "left", "baseline": "middle", "fontSize": 10, "xOffset": 6},
     "encoding": {"x": {"datum": 344.5, "type": "quantitative", "scale": {"domain": [-2.65, 344.5], "nice": false, "zero": false, "padding": 0}},
       "y": {"field": "v", "type": "quantitative", "scale": {"domain": [43.1, 72.8], "nice": false, "zero": false, "padding": 0}},
       "text": {"field": "t"}, "color": {"value": "#ffffff"}}}
   ]},
  {"data": {"values": [{}]}, "mark": {"type": "rule", "color": "#000000", "strokeWidth": 3, "xOffset": -7, "x2Offset": 53, "yOffset": 20.5},
   "encoding": {"x": {"datum": -2.65, "type": "quantitative", "scale": {"domain": [-2.65, 344.5], "nice": false, "zero": false, "padding": 0}}, "x2": {"datum": 344.5},
     "y": {"datum": 43.1, "type": "quantitative", "scale": {"domain": [43.1, 72.8], "nice": false, "zero": false, "padding": 0}}}}
 ]
}
]
}
